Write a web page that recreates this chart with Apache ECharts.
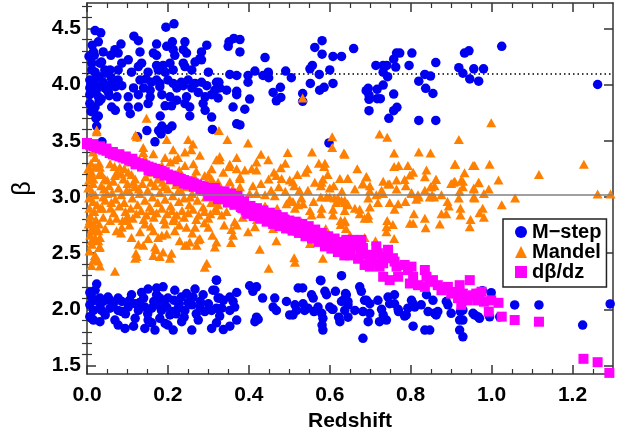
<!DOCTYPE html>
<html><head><meta charset="utf-8">
<script src="https://cdn.jsdelivr.net/npm/echarts@6/dist/echarts.min.js"></script>
<style>html,body{margin:0;padding:0;background:#fff}#c{width:630px;height:437px}</style>
</head><body><div id="c"></div>
<script>
const xTicks=[0,0.2,0.4,0.6,0.8,1.0,1.2];
const xMinor=[0.05,0.1,0.15,0.25,0.3,0.35,0.45,0.5,0.55,0.65,0.7,0.75,0.85,0.9,0.95,1.05,1.1,1.15,1.25];
const yTicks=[1.5,2.0,2.5,3.0,3.5,4.0,4.5];
const yMinor=[1.6,1.7,1.8,1.9,2.1,2.2,2.3,2.4,2.6,2.7,2.8,2.9,3.1,3.2,3.3,3.4,3.6,3.7,3.8,3.9,4.1,4.2,4.3,4.4,4.6,4.7];
const xRange=[0,1.3];
const yRange=[1.425,4.725];
const refDotted=4.1;
const refSolid=3.02;
const seriesNames=['M\u2212step','Mandel','d\u03b2/dz'];

const mstep=[
[0.162,4.73],[0.195,4.51],[0.215,4.54],[0.02,4.48],[0.034,4.46],[0.116,4.43],[0.127,4.39],[0.084,4.36],[0.013,4.35],[0.028,4.38],[0.172,4.36],[0.211,4.38],[0.242,4.38],[0.296,4.35],
[0.016,4.29],[0.018,4.26],[0.04,4.29],[0.069,4.31],[0.077,4.28],[0.059,4.26],[0.131,4.29],[0.164,4.28],[0.172,4.26],[0.197,4.34],[0.213,4.31],[0.217,4.26],[0.238,4.31],[0.246,4.28],[0.283,4.29],[0.279,4.23],[0.102,4.22],
[0.012,4.19],[0.032,4.19],[0.036,4.2],[0.086,4.19],[0.135,4.19],[0.127,4.16],[0.172,4.17],[0.188,4.17],[0.205,4.19],[0.238,4.19],[0.242,4.16],[0.267,4.2],[0.283,4.22],[0.259,4.13],
[0.012,4.13],[0.02,4.11],[0.044,4.13],[0.057,4.13],[0.077,4.13],[0.11,4.11],[0.151,4.11],[0.176,4.13],[0.193,4.11],[0.213,4.13],[0.3,4.11],
[0.007,4.04],[0.02,4.05],[0.04,4.02],[0.06,4.01],[0.077,4.04],[0.131,4.04],[0.146,4.05],[0.159,4.02],[0.172,4.04],[0.18,4.01],[0.2,4.04],[0.213,4.01],[0.233,4.02],[0.25,4.04],[0.267,4.01],[0.283,4.02],[0.32,4.02],
[0.007,3.97],[0.023,3.95],[0.044,3.97],[0.07,3.98],[0.086,3.99],[0.115,3.97],[0.14,3.97],[0.156,3.95],[0.18,3.98],[0.222,3.97],[0.238,3.99],[0.259,3.97],[0.296,3.99],[0.316,3.95],
[0.007,3.91],[0.028,3.89],[0.053,3.93],[0.074,3.89],[0.102,3.89],[0.127,3.91],[0.156,3.89],[0.185,3.91],[0.205,3.89],[0.222,3.86],[0.246,3.89],[0.275,3.93],[0.292,3.89],[0.308,3.91],
[0.007,3.83],[0.02,3.8],[0.061,3.8],[0.102,3.8],[0.127,3.8],[0.151,3.83],[0.193,3.81],[0.209,3.81],[0.242,3.83],[0.254,3.8],[0.287,3.83],
[0.016,3.77],[0.028,3.72],[0.07,3.77],[0.107,3.74],[0.181,3.72],[0.254,3.72],[0.292,3.77],[0.308,3.71],
[0.185,3.63],[0.177,3.59],[0.148,3.59],[0.2,3.6],[0.31,3.6],[0.024,3.63],
[0.125,3.535],[0.168,3.49],[0.183,3.56],[0.21,3.63],[0.037,3.49],
[0.005,4.25],[0.01,4.0],[0.015,3.93],[0.025,3.98],[0.03,3.85],[0.01,3.76],[0.022,3.7],[0.03,4.07],[0.045,4.1],[0.05,3.95],[0.035,3.87],[0.06,4.06],[0.055,3.9],
[0.349,4.34],[0.351,4.38],[0.363,4.41],[0.378,4.40],[0.378,4.29],[0.44,4.24],[0.326,4.02],[0.328,3.97],[0.324,3.88],[0.353,4.09],[0.37,4.08],[0.345,3.95],[0.37,3.94],[0.37,3.91],[0.361,3.8],[0.39,3.78],[0.398,4.08],[0.398,4.02],[0.402,3.87],[0.415,4.12],[0.435,4.08],[0.448,4.11],[0.449,4.06],[0.37,3.65],[0.378,3.64],[0.46,3.93],[0.478,3.975],[0.468,3.855],[0.479,3.885],[0.491,4.12],[0.505,4.06],[0.533,3.92],[0.533,3.85],[0.551,4.14],[0.557,4.17],[0.552,4.01],[0.563,4.33],[0.581,4.39],[0.581,4.27],[0.574,4.09],[0.575,3.95],[0.586,3.975],[0.6,4.13],[0.608,4.01],[0.608,4.25],[0.629,4.25],[0.598,3.48],[0.659,4.32],
[0.69,3.945],[0.695,3.966],[0.697,3.906],[0.697,3.868],[0.717,3.957],[0.717,3.874],[0.725,3.874],[0.697,3.767],[0.714,4.17],[0.732,4.17],[0.741,4.17],[0.732,4.11],[0.743,4.07],[0.732,3.995],[0.758,4.225],[0.763,4.155],[0.765,4.28],[0.773,4.28],[0.758,3.915],[0.758,3.767],[0.766,3.797],[0.746,3.699],[0.796,4.17],[0.803,4.28],[0.82,4.03],[0.835,4.09],[0.837,3.966],[0.849,4.075],[0.855,3.92],[0.862,4.195],[0.82,3.68],[0.862,3.68],[0.919,4.15],[0.929,4.1],[0.933,4.28],[0.944,4.30],[0.946,4.05],[0.956,4.14],[0.968,4.03],[0.98,4.14],[1.025,4.34],[1.262,4.0],
[0.024,2.225],[0.02,2.17],[0.007,2.15],[0.011,2.11],[0.02,2.08],[0.032,2.10],[0.04,2.07],[0.052,2.11],[0.057,2.08],[0.077,2.10],[0.086,2.07],[0.11,2.13],[0.135,2.15],[0.151,2.18],[0.172,2.19],[0.188,2.20],[0.172,2.13],[0.184,2.08],[0.2,2.10],[0.217,2.17],[0.233,2.11],[0.246,2.14],[0.267,2.18],[0.262,2.11],[0.287,2.13],[0.311,2.17],[0.32,2.26],[0.324,2.10],
[0.007,2.04],[0.016,1.99],[0.032,2.02],[0.036,1.99],[0.057,2.01],[0.077,1.99],[0.086,1.98],[0.102,2.02],[0.119,2.05],[0.127,1.99],[0.143,2.02],[0.16,2.01],[0.172,2.04],[0.184,1.99],[0.197,2.02],[0.209,1.98],[0.225,2.01],[0.242,1.99],[0.259,2.04],[0.279,2.02],[0.291,1.98],[0.308,1.99],[0.32,2.01],
[0.007,1.935],[0.016,1.905],[0.032,1.89],[0.069,1.905],[0.077,1.86],[0.094,1.83],[0.115,1.85],[0.119,1.92],[0.143,1.83],[0.151,1.905],[0.168,1.816],[0.18,1.92],[0.193,1.875],[0.213,1.816],[0.234,1.89],[0.259,1.816],[0.275,1.905],[0.308,1.83],[0.011,1.92],[0.045,1.95],
[0.13,2.06],[0.15,1.96],[0.165,2.07],[0.19,2.05],[0.205,1.95],[0.215,2.08],[0.228,2.05],[0.24,1.93],[0.25,2.06],[0.27,1.96],[0.28,2.07],[0.3,2.05],[0.095,1.96],[0.065,2.05],[0.14,2.1],[0.16,1.88],[0.2,1.86],[0.22,1.96],[0.18,2.1],[0.105,2.08],
[0.32,2.26],[0.316,2.17],[0.328,2.10],[0.337,2.08],[0.353,2.11],[0.37,2.15],[0.361,2.07],[0.365,2.02],[0.353,1.99],[0.333,2.01],[0.328,1.94],[0.32,1.88],[0.337,1.82],[0.353,1.85],[0.37,1.905],
[0.402,2.21],[0.419,2.20],[0.41,2.16],[0.434,2.10],[0.419,1.93],[0.423,1.91],[0.415,1.89],
[0.464,2.10],[0.468,1.99],[0.46,2.02],[0.493,2.07],[0.514,2.04],[0.509,1.95],[0.518,1.99],[0.501,1.95],[0.522,2.19],[0.534,2.05],[0.538,1.99],[0.546,2.01],[0.555,2.13],[0.559,2.10],[0.561,1.98],[0.578,2.255],[0.588,2.16],[0.592,2.13],[0.58,1.965],[0.583,1.92],[0.581,1.86],[0.583,1.816],[0.6,2.02],[0.606,2.0],[0.614,2.16],[0.629,2.30],[0.639,2.14],[0.629,2.07],[0.622,1.93],[0.625,1.89],[0.637,1.99],[0.645,2.04],[0.645,1.93],
[0.674,2.20],[0.678,2.16],[0.641,2.13],[0.645,2.07],[0.662,1.99],[0.691,2.08],[0.699,2.05],[0.699,1.965],[0.682,1.98],[0.695,1.89],[0.719,2.08],[0.723,1.89],[0.74,1.905],[0.732,1.95],[0.744,2.11],[0.76,2.13],[0.76,2.05],[0.748,2.05],[0.77,1.98],[0.789,1.95],[0.793,2.01],[0.802,2.08],[0.806,2.05],[0.81,2.02],[0.806,1.85],[0.826,2.04],[0.835,1.816],[0.847,1.816],[0.839,2.13],[0.855,2.08],[0.859,1.965],[0.843,1.98],[0.867,1.98],[0.888,2.07],[0.892,2.04],[0.9,1.965],[0.923,1.98],[0.929,1.905],[0.921,1.816],[0.929,1.756],[0.958,1.95],[0.966,1.935],[0.682,1.742],
[0.533,2.19],[0.577,2.26],[0.571,2.02],[0.608,2.0],[0.633,2.08],[0.686,2.08],[0.728,2.0],[0.769,2.0],[0.785,1.94],[0.863,1.95],
[0.999,2.148],[0.977,2.166],[0.954,1.965],[0.97,1.92],[0.995,1.934],[0.921,1.905],[0.929,1.994],[1.02,1.934],[1.057,2.039],[1.117,2.039],[1.225,1.86],[1.293,2.048]
];

const mandel=[
[0.003,3.25],[0.01,3.2],[0.005,3.15],[0.015,3.12],[0.003,3.08],[0.012,3.05],[0.02,3.02],[0.005,2.99],[0.015,2.96],[0.025,2.93],[0.006,2.9],[0.018,2.87],[0.008,2.83],[0.022,2.8],[0.004,2.76],[0.014,2.73],[0.028,2.7],[0.008,2.66],[0.02,2.62],[0.012,2.58],[0.03,2.55],[0.006,2.52],[0.02,2.48],[0.016,2.44],[0.028,2.43],[0.011,2.39],[0.032,2.385],[0.024,3.58],[0.03,3.3],[0.035,3.1],[0.04,3.0],[0.038,2.9],[0.045,2.97],[0.042,3.07],[0.05,3.15],[0.03,2.76],[0.04,2.82],[0.045,2.72],[0.032,2.64],[0.03,3.2],[0.02,3.35],[0.01,3.3],[0.015,3.4],[0.033,2.9],
[0.007,3.25],[0.011,3.22],[0.02,3.265],[0.032,3.265],[0.036,3.205],[0.016,3.16],[0.044,3.16],
[0.123,3.535],[0.197,3.51],[0.25,3.51],[0.262,3.47],[0.258,3.42],[0.242,3.40],[0.225,3.35],[0.213,3.42],[0.193,3.35],[0.164,3.385],[0.139,3.44],[0.139,3.395],[0.143,3.34],[0.127,3.295],[0.102,3.31],[0.081,3.265],[0.057,3.295],[0.069,3.19],[0.085,3.205],[0.102,3.22],[0.119,3.16],[0.16,3.25],[0.185,3.28],[0.206,3.31],[0.217,3.33],[0.242,3.28],[0.279,3.37],[0.263,3.295],[0.308,3.25],[0.32,3.33],[0.291,3.19],[0.308,3.16],[0.324,3.13],[0.147,3.70],[0.12,3.55],[0.024,3.595],
[0.055,3.1],[0.062,3.04],[0.07,2.98],[0.078,3.08],[0.085,3.02],[0.092,2.95],[0.1,3.12],[0.105,3.05],[0.112,2.99],[0.118,3.09],[0.125,2.93],[0.13,3.03],[0.137,3.12],[0.143,2.97],[0.15,3.06],[0.155,2.91],[0.162,3.0],[0.168,3.1],[0.175,2.95],[0.18,3.04],[0.187,3.13],[0.193,2.98],[0.2,3.07],[0.207,2.92],[0.212,3.01],[0.22,3.11],[0.227,2.96],[0.233,3.05],[0.24,2.99],[0.247,3.09],[0.253,2.93],[0.26,3.03],[0.267,3.14],[0.273,2.97],[0.28,3.06],[0.287,2.91],[0.293,3.0],[0.3,3.1],[0.307,2.95],[0.313,3.04],[0.32,2.98],[0.327,3.08],
[0.058,2.9],[0.066,2.86],[0.08,2.92],[0.095,2.87],[0.108,2.9],[0.122,2.85],[0.134,2.88],[0.147,2.84],[0.16,2.88],[0.172,2.86],[0.185,2.9],[0.198,2.85],[0.21,2.88],[0.222,2.84],[0.235,2.88],[0.25,2.86],[0.262,2.89],[0.276,2.84],[0.29,2.87],[0.305,2.85],[0.318,2.9],
[0.065,3.14],[0.09,3.16],[0.115,3.13],[0.145,3.18],[0.175,3.16],[0.205,3.15],[0.235,3.19],[0.265,3.18],[0.295,3.13],[0.075,3.22],[0.098,3.06],[0.128,3.07],[0.158,3.13],[0.19,3.09],[0.225,3.05],[0.255,3.0],[0.285,3.05],[0.315,3.11],[0.05,3.03],[0.06,2.95],
[0.073,2.81],[0.088,2.79],[0.1,2.83],[0.113,2.81],[0.14,2.8],[0.165,2.82],[0.19,2.8],[0.215,2.81],[0.24,2.82],[0.27,2.8],[0.3,2.81],
[0.057,2.79],[0.073,2.70],[0.086,2.73],[0.11,2.64],[0.127,2.58],[0.131,2.69],[0.139,2.57],[0.119,2.455],[0.123,2.47],[0.164,2.48],[0.18,2.47],[0.205,2.455],[0.151,2.63],[0.168,2.555],[0.176,2.64],[0.197,2.67],[0.217,2.70],[0.229,2.61],[0.246,2.57],[0.271,2.57],[0.279,2.63],[0.291,2.375],[0.316,2.555],[0.246,2.73],[0.267,2.73],[0.3,2.73],[0.193,2.76],[0.213,2.79],[0.143,2.76],[0.098,2.79],[0.164,2.70],[0.069,2.34],[0.007,2.79],[0.016,2.76],[0.011,2.70],[0.024,2.70],[0.02,2.64],[0.011,2.61],[0.028,2.61],[0.032,2.555],[0.02,2.48],
[0.121,2.50],[0.17,2.53],[0.188,2.51],[0.209,2.50],[0.242,2.57],[0.254,2.60],[0.275,2.62],[0.296,2.41],
[0.068,3.27],[0.092,3.25],[0.11,3.2],[0.155,3.22],[0.182,3.21],[0.228,3.24],[0.27,3.23],[0.3,3.2],[0.084,2.68],[0.105,2.75],[0.158,2.74],[0.185,2.66],[0.228,2.75],[0.26,2.68],[0.29,2.77],[0.31,2.66],
[0.326,3.59],[0.347,3.51],[0.398,3.48],[0.606,3.535],[0.606,3.44],[0.496,3.395],[0.556,3.40],[0.635,3.39],[0.328,3.36],[0.328,3.33],[0.37,3.35],[0.448,3.33],[0.353,3.29],[0.351,3.27],[0.37,3.25],[0.39,3.24],[0.407,3.25],[0.419,3.31],[0.419,3.24],[0.479,3.26],[0.462,3.22],[0.573,3.30],[0.588,3.30],[0.586,3.27],[0.337,3.22],[0.378,3.18],[0.378,3.165],[0.353,3.135],[0.449,3.16],[0.468,3.19],[0.481,3.165],[0.501,3.15],[0.509,3.135],[0.512,3.10],[0.474,3.09],[0.563,3.13],[0.58,3.13],[0.583,3.16],[0.578,3.10],[0.6,3.08],[0.625,3.165],[0.644,3.165],[0.378,3.09],[0.402,3.03],[0.419,3.03],[0.44,3.02],[0.464,3.01],[0.493,2.94],[0.501,2.98],[0.509,2.96],[0.53,2.99],[0.534,2.94],[0.546,3.06],[0.578,3.0],[0.592,3.0],[0.6,3.0],[0.611,2.99],[0.62,2.99],[0.629,2.97],[0.616,2.95],[0.637,2.95],[0.644,2.93],[0.551,2.88],[0.555,2.84],[0.58,2.90],[0.578,2.85],[0.514,2.90],[0.522,2.93],[0.608,2.89],[0.608,2.84],[0.627,2.79],[0.637,2.78],[0.627,2.755],[0.32,2.88],[0.333,2.84],[0.345,2.87],[0.32,2.97],[0.324,2.93],[0.365,2.78],[0.37,2.75],[0.357,2.71],[0.361,2.66],[0.339,2.75],[0.398,2.69],[0.415,2.735],[0.356,2.595],[0.32,2.60],[0.468,2.61],[0.427,2.535],[0.512,2.46],[0.514,2.42],[0.449,2.365],[0.583,2.455],[0.551,2.585],
[0.335,3.05],[0.36,3.07],[0.345,2.98],[0.39,2.95],[0.41,3.1],[0.43,3.12],[0.455,3.06],[0.44,2.92],[0.47,2.9],[0.49,3.05],[0.52,3.2],[0.54,3.22],[0.525,3.06],[0.56,2.96],[0.545,3.25],[0.61,3.1],[0.595,3.2],[0.63,3.05],[0.49,3.3],[0.43,3.38],[0.385,2.82],[0.42,2.8],[0.5,2.8],[0.53,2.78],[0.46,2.72],[0.59,2.72],
[0.723,3.56],[0.742,3.53],[0.919,3.51],[0.759,3.39],[0.82,3.40],[0.849,3.39],[0.637,3.38],[0.668,3.25],[0.759,3.27],[0.77,3.28],[0.793,3.28],[0.806,3.22],[0.839,3.24],[0.835,3.18],[0.863,3.155],[0.91,3.29],[0.933,3.215],[0.954,3.28],[0.645,3.165],[0.691,3.18],[0.682,3.12],[0.699,3.1],[0.732,3.14],[0.765,3.15],[0.785,3.155],[0.744,3.115],[0.662,3.07],[0.699,3.055],[0.728,3.06],[0.765,3.07],[0.802,3.03],[0.835,3.06],[0.851,3.09],[0.853,3.02],[0.9,3.12],[0.909,3.14],[0.925,3.15],[0.929,3.09],[0.921,3.05],[0.956,3.07],[0.637,2.97],[0.644,2.94],[0.662,2.90],[0.674,2.89],[0.695,2.99],[0.699,2.91],[0.719,2.95],[0.715,3.02],[0.732,3.03],[0.748,2.95],[0.76,2.89],[0.769,2.94],[0.787,2.96],[0.802,3.04],[0.814,2.98],[0.82,3.0],[0.847,3.0],[0.858,3.0],[0.876,3.02],[0.891,2.96],[0.894,2.92],[0.919,2.99],[0.923,2.90],[0.956,3.0],[0.637,2.88],[0.637,2.79],[0.674,2.85],[0.695,2.84],[0.686,2.81],[0.695,2.81],[0.742,2.79],[0.756,2.755],[0.74,2.735],[0.74,2.69],[0.798,2.765],[0.806,2.765],[0.808,2.85],[0.835,2.81],[0.837,2.725],[0.872,2.76],[0.876,2.85],[0.888,2.85],[0.923,2.84],[0.948,2.80],[0.946,2.735],[0.686,2.64],[0.713,2.61],[0.759,2.63],[0.64,2.72],[0.65,2.66],
[0.748,3.115],[0.788,3.10],[0.798,3.195],[0.818,3.02],[0.849,3.09],[0.859,3.10],[0.862,3.155],[0.906,3.13],[0.929,3.14],[0.956,3.08],[0.968,3.13],[0.993,3.07],[0.69,3.18],[0.681,3.115],
[0.958,3.28],[0.995,3.29],[0.968,3.126],[1.017,3.15],[0.981,3.03],[0.958,2.99],[0.978,2.90],[0.97,2.86],[0.981,2.82],[1.025,2.93],[1.058,2.99],[1.117,3.2],[1.228,3.29],[1.262,3.025],[1.294,3.025],[0.999,3.66],[0.909,3.29],
[0.533,3.88]
];

const dbdz=[
[0.000,3.47],[0.000,3.48],[0.008,3.46],[0.016,3.45],[0.016,3.47],[0.024,3.44],[0.032,3.43],[0.032,3.45],[0.040,3.42],[0.048,3.41],[0.048,3.43],[0.056,3.39],[0.064,3.38],[0.064,3.40],[0.072,3.37],[0.080,3.36],[0.080,3.38],[0.088,3.35],[0.096,3.34],[0.096,3.36],[0.104,3.33],[0.112,3.32],[0.112,3.34],[0.120,3.31],[0.120,3.29],[0.128,3.30],[0.136,3.29],[0.136,3.27],[0.144,3.28],[0.152,3.27],[0.152,3.24],[0.160,3.26],[0.160,3.23],[0.168,3.25],[0.176,3.24],[0.176,3.21],[0.184,3.23],[0.192,3.22],[0.192,3.19],[0.200,3.20],[0.208,3.19],[0.208,3.16],[0.216,3.18],[0.224,3.17],[0.224,3.14],[0.232,3.16],[0.240,3.15],[0.240,3.12],[0.248,3.14],[0.248,3.11],[0.256,3.13],[0.264,3.12],[0.264,3.09],[0.272,3.11],[0.280,3.10],[0.280,3.07],[0.288,3.09],[0.296,3.08],[0.296,3.05],[0.304,3.07],[0.304,3.04],[0.312,3.06],[0.312,3.02],[0.320,3.05],[0.328,3.04],[0.328,3.00],[0.336,3.03],[0.344,3.02],[0.344,2.98],[0.352,3.01],[0.352,2.97],[0.360,3.00],[0.368,2.99],[0.368,2.95],[0.376,2.98],[0.376,2.94],
[0.384,2.93],[0.384,2.90],[0.392,2.91],[0.392,2.88],[0.400,2.89],[0.400,2.86],[0.408,2.90],[0.408,2.87],[0.416,2.88],[0.416,2.85],[0.424,2.87],[0.424,2.83],[0.432,2.86],[0.440,2.85],[0.440,2.81],[0.448,2.84],[0.448,2.80],[0.456,2.83],[0.464,2.82],[0.464,2.78],[0.472,2.81],[0.480,2.79],[0.480,2.76],[0.488,2.80],[0.496,2.77],[0.496,2.74],[0.504,2.76],[0.504,2.72],[0.512,2.75],[0.520,2.73],[0.520,2.70],[0.528,2.74],[0.536,2.71],[0.536,2.68],[0.544,2.72],[0.552,2.69],[0.552,2.66],[0.560,2.68],[0.560,2.64],[0.568,2.66],[0.576,2.64],[0.576,2.61],[0.584,2.65],[0.592,2.62],[0.592,2.58],[0.600,2.60],[0.608,2.61],[0.608,2.56],[0.616,2.57],[0.624,2.58],[0.624,2.53],[0.632,2.55],[0.640,2.56],[0.640,2.51],[0.640,2.60],[0.650,2.53],[0.650,2.48],
[0.300,3.01],[0.316,3.08],[0.324,2.98],[0.340,3.05],[0.348,2.95],[0.356,3.03],[0.364,2.93],[0.372,3.01],[0.380,2.91],[0.388,2.96],[0.396,2.85],[0.404,2.92],[0.412,2.83],[0.420,2.90],[0.428,2.81],[0.436,2.88],[0.444,2.78],[0.452,2.86],[0.460,2.76],[0.468,2.84],[0.476,2.74],[0.484,2.82],[0.492,2.72],[0.500,2.79],[0.508,2.70],[0.516,2.78],[0.524,2.68],[0.532,2.76],[0.540,2.65],[0.548,2.74],[0.556,2.63],[0.564,2.71],[0.572,2.60],[0.580,2.68],[0.588,2.56],[0.596,2.65],[0.604,2.54],[0.612,2.63],[0.620,2.51],[0.628,2.60],[0.636,2.48],[0.660,2.58],[0.670,2.45],[0.675,2.52],
[0.641,2.618],[0.658,2.618],[0.678,2.618],[0.641,2.50],[0.662,2.56],[0.682,2.545],[0.686,2.485],[0.699,2.485],[0.703,2.425],[0.715,2.56],[0.719,2.50],[0.728,2.455],[0.736,2.47],[0.686,2.395],[0.699,2.38],[0.711,2.41],[0.723,2.38],[0.732,2.41],[0.744,2.53],[0.756,2.455],[0.76,2.425],[0.765,2.38],[0.732,2.29],[0.748,2.26],[0.769,2.29],[0.785,2.395],[0.793,2.35],[0.802,2.38],[0.806,2.29],[0.798,2.23],[0.818,2.215],[0.835,2.35],[0.839,2.29],[0.847,2.245],[0.855,2.26],[0.835,2.20],[0.867,2.215],[0.876,2.17],[0.884,2.19],[0.892,2.20],[0.9,2.14],[0.909,2.155],[0.921,2.215],[0.929,2.14],[0.917,2.10],[0.933,2.11],[0.946,2.26],[0.954,2.125],[0.962,2.14],[0.966,2.10],[0.925,2.04],[0.941,2.08],
[0.97,2.14],[0.981,2.068],[0.965,2.08],[0.999,2.08],[1.017,2.058],[0.993,1.98],[1.025,1.935],[1.057,1.905],[1.117,1.89],[0.975,2.157],[1.227,1.56],[1.262,1.53],[1.291,1.435]
];

const fontFam='"Liberation Sans", Arial, Helvetica, sans-serif';
const axisColor='#333';
const chart=echarts.init(document.getElementById('c'),null,{renderer:'canvas'});
const gridPos={left:87,right:17,top:3,bottom:63};
function majorX(pos,showLabel){
  return {gridIndex:0,type:'value',position:pos,min:xRange[0],max:xRange[1],
    axisLine:{show:true,onZero:false,lineStyle:{color:axisColor,width:1.5}},
    axisTick:{show:true,inside:true,length:9,customValues:xTicks,lineStyle:{color:axisColor,width:1.5}},
    axisLabel:{show:showLabel,customValues:xTicks,formatter:v=>Number(v).toFixed(1),fontSize:21,fontWeight:'bold',color:'#000',fontFamily:fontFam,margin:11},
    splitLine:{show:false},minorTick:{show:false}};
}
function majorY(pos,showLabel){
  return {gridIndex:0,type:'value',position:pos,min:yRange[0],max:yRange[1],
    axisLine:{show:true,onZero:false,lineStyle:{color:axisColor,width:1.5}},
    axisTick:{show:true,inside:true,length:9,customValues:yTicks,lineStyle:{color:axisColor,width:1.5}},
    axisLabel:{show:showLabel,customValues:yTicks,formatter:v=>Number(v).toFixed(1),fontSize:21,fontWeight:'bold',color:'#000',fontFamily:fontFam,margin:6},
    splitLine:{show:false},minorTick:{show:false}};
}
function minorX(pos){
  return {gridIndex:1,type:'value',position:pos,min:xRange[0],max:xRange[1],
    axisLine:{show:false},axisTick:{show:true,inside:true,length:5,customValues:xMinor,lineStyle:{color:axisColor,width:1.2}},
    axisLabel:{show:false},splitLine:{show:false}};
}
function minorY(pos){
  return {gridIndex:1,type:'value',position:pos,min:yRange[0],max:yRange[1],
    axisLine:{show:false},axisTick:{show:true,inside:true,length:5,customValues:yMinor,lineStyle:{color:axisColor,width:1.2}},
    axisLabel:{show:false},splitLine:{show:false}};
}
const xb=majorX('bottom',true);
xb.name='Redshift';xb.nameLocation='middle';xb.nameGap=34;
xb.nameTextStyle={fontSize:21,fontWeight:'bold',color:'#000',fontFamily:fontFam};
const yl=majorY('left',true);
yl.name='\u03b2';yl.nameLocation='middle';yl.nameGap=51;
yl.nameTextStyle={fontSize:25,fontWeight:'normal',color:'#000',fontFamily:fontFam};

chart.setOption({
  animation:false,
  backgroundColor:'#fff',
  grid:[Object.assign({},gridPos),Object.assign({},gridPos)],
  xAxis:[xb,majorX('top',false),minorX('bottom'),minorX('top')],
  yAxis:[yl,majorY('right',false),minorY('left'),minorY('right')],
  legend:{
    orient:'vertical',left:503,top:219,
    data:[{name:seriesNames[0],icon:'circle'},{name:seriesNames[1],icon:'triangle'},{name:seriesNames[2],icon:'rect'}],
    itemWidth:12,itemHeight:12,itemGap:0,
    padding:[3,5,5,12],
    borderColor:'#222',borderWidth:1.5,borderRadius:0,backgroundColor:'#fff',
    textStyle:{fontSize:20,fontWeight:'bold',color:'#000',fontFamily:fontFam,lineHeight:20},
    selectedMode:false
  },
  series:[
    {name:seriesNames[0],type:'scatter',xAxisIndex:0,yAxisIndex:0,data:mstep,symbol:'circle',symbolSize:9.5,
     itemStyle:{color:'#0000f0',opacity:1},z:2,
     markLine:{z:1,silent:true,symbol:['none','none'],label:{show:false},
       lineStyle:{type:[1.5,3],color:'#000',width:1.5},data:[{yAxis:refDotted}]}},
    {name:seriesNames[1],type:'scatter',xAxisIndex:0,yAxisIndex:0,data:mandel,symbol:'triangle',symbolSize:[10,9],
     itemStyle:{color:'#ff8000',opacity:1},z:3,
     markLine:{z:10,silent:true,symbol:['none','none'],label:{show:false},
       lineStyle:{type:'solid',color:'#808080',width:1.5},data:[{yAxis:refSolid}]}},
    {name:seriesNames[2],type:'scatter',xAxisIndex:0,yAxisIndex:0,data:dbdz,symbol:'rect',symbolSize:10,
     itemStyle:{color:'#ff00ff',opacity:1},z:4}
  ]
});
</script></body></html>
